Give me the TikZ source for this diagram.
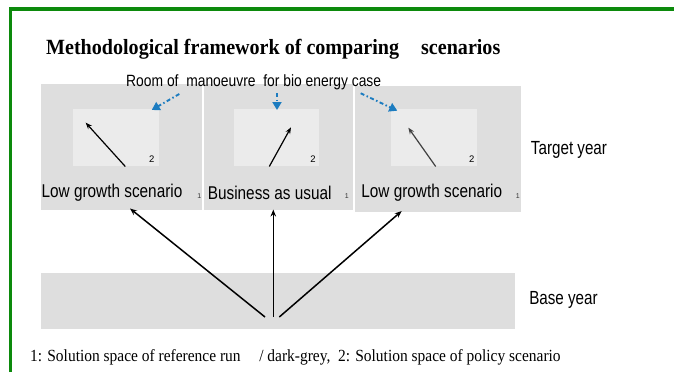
\documentclass[tikz,border=0pt]{standalone}
\usepackage{fontspec}
\usepackage{graphicx}
\setmainfont{Liberation Serif}
\setsansfont{Liberation Sans}
\usetikzlibrary{arrows.meta}
\definecolor{framegreen}{RGB}{12,138,12}
\definecolor{outergrey}{RGB}{222,222,222}
\definecolor{innergrey}{RGB}{235,235,235}
\definecolor{arrowblue}{RGB}{28,124,192}
\newcommand{\sqz}[2][0.85]{\scalebox{#1}[1]{#2}}
\tikzset{
  x=1pt, y=-1pt,
  outerbox/.style={fill=outergrey, draw=none, inner sep=0pt, anchor=north west},
  innerbox/.style={fill=innergrey, draw=none, inner sep=0pt, anchor=north west},
  scen/.style={font=\sffamily\fontsize{18.5}{18}\selectfont, inner sep=0pt},
  yearlab/.style={font=\sffamily\fontsize{19}{18}\selectfont, inner sep=0pt},
  one/.style={font=\sffamily\fontsize{7}{7}\selectfont, text=black!80, inner sep=0pt},
  two/.style={font=\sffamily\fontsize{9.5}{9.5}\selectfont, inner sep=0pt},
  mainarrow/.style={-{Stealth[length=7pt,width=5.5pt]}, line width=1.5pt, black},
  innerarrow/.style={-{Stealth[length=6.5pt,width=5pt]}, line width=1.2pt, black},
  bluearrow/.style={-{Triangle[length=8pt,width=9pt]}, line width=1.9pt, arrowblue,
     dash pattern=on 4pt off 2.5pt on 1.5pt off 2.5pt},
}
\begin{document}
\begin{tikzpicture}
\useasboundingbox (0,0) rectangle (674,372);
% frame
\draw[framegreen, line width=3.6pt] (10.5,372) -- (10.5,9) -- (674,9);
% title
\node[anchor=base west, inner sep=0pt, font=\bfseries\fontsize{21.7}{22}\selectfont] (title) at (46,54)
  {\sqz[0.925]{Methodological framework of comparing\hspace{1.1em}scenarios}};
% outer boxes
\node[outerbox, minimum width=161pt, minimum height=126pt] (boxL) at (41,84) {};
\node[outerbox, minimum width=149pt, minimum height=126pt] (boxM) at (204,84) {};
\node[outerbox, minimum width=166pt, minimum height=126pt] (boxR) at (355,86) {};
% inner boxes
\node[innerbox, minimum width=86pt, minimum height=57pt] (inL) at (73,109) {};
\node[innerbox, minimum width=85pt, minimum height=57pt] (inM) at (234,109) {};
\node[innerbox, minimum width=86pt, minimum height=57pt] (inR) at (391,109) {};
% base box
\node[outerbox, minimum width=474pt, minimum height=56pt] (base) at (41,273) {};
% labels
\node[scen] (labL) at (112,192.5) {\sqz[0.83]{Low growth scenario}};
\node[scen] (labM) at (269.7,192.5) {\sqz[0.83]{Business as usual}};
\node[scen] (labR) at (431.8,193) {\sqz[0.83]{Low growth scenario}};
\node[one] (oneL) at (199.3,196) {1};
\node[one] (oneM) at (346.7,196) {1};
\node[one] (oneR) at (517.7,196) {1};
\node[two] (twoL) at (151.7,159) {2};
\node[two] (twoM) at (313,159) {2};
\node[two] (twoR) at (471.7,159) {2};
\node[yearlab] (target) at (569,150) {\sqz[0.8]{Target year}};
\node[yearlab] (baseyr) at (563.5,300) {\sqz[0.8]{Base year}};
\node[inner sep=0pt, font=\sffamily\fontsize{16.3}{16}\selectfont] (room) at (253.7,82) {\sqz{Room of\ \ manoeuvre\ \ for bio energy case}};
% footnote
\node[anchor=base west, inner sep=0pt, font=\fontsize{17}{17}\selectfont] (foot) at (30,361.5)
  {\sqz[0.91]{1: Solution space of reference run\hspace{1.2em}/ dark-grey,\ \ 2: Solution space of policy scenario}};
% main arrows
\coordinate (sL) at (265,317);
\coordinate (sM) at (273.3,317);
\coordinate (sR) at (279.3,317);
\coordinate (tL) at (130,208.5);
\coordinate (tM) at (273.3,209.5);
\coordinate (tR) at (401.7,211);
\draw[mainarrow] (sL) -- (tL);
\draw[mainarrow] (sM) -- (tM);
\draw[mainarrow] (sR) -- (tR);
% inner arrows
\coordinate (iLs) at (125.3,166.5); \coordinate (iLt) at (85.7,122.7);
\coordinate (iMs) at (269.3,166.5); \coordinate (iMt) at (291,127.3);
\coordinate (iRs) at (435.7,166.5); \coordinate (iRt) at (408.3,127.7);
\draw[innerarrow] (iLs) -- (iLt);
\draw[innerarrow] (iMs) -- (iMt);
\draw[innerarrow, black!75] (iRs) -- (iRt);
% blue arrows
\coordinate (bLs) at (179.3,94); \coordinate (bLt) at (151.7,110);
\coordinate (bMs) at (277,93.3); \coordinate (bMt) at (277,110);
\coordinate (bRs) at (360.7,93.3); \coordinate (bRt) at (397.3,110.7);
\draw[bluearrow] (bLs) -- (bLt);
\draw[bluearrow] (bMs) -- (bMt);
\draw[bluearrow] (bRs) -- (bRt);
\end{tikzpicture}
\end{document}
